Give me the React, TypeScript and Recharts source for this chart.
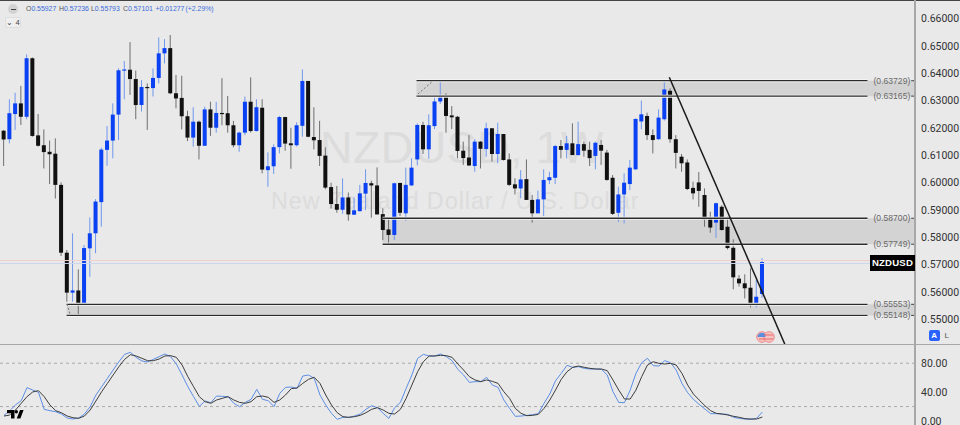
import React from 'react';
import { ComposedChart, LineChart, Bar, Line, XAxis, YAxis, ReferenceArea, ReferenceLine } from 'recharts';

const opens = [.6190,.6159,.6251,.6290,.6241,.6455,.6173,.6137,.6113,.6106,.5992,.5744,.5598,.5606,.5556,.5760,.5815,.5929,.6120,.6154,.6249,.6411,.6413,.6379,.6284,.6350,.6346,.6383,.6473,.6492,.6327,.6310,.6243,.6165,.6223,.6135,.6268,.6201,.6255,.6254,.6210,.6137,.6183,.6296,.6189,.6274,.6046,.6060,.6130,.6240,.6144,.6137,.6208,.6372,.6167,.6156,.6099,.5984,.5922,.5901,.5946,.5883,.5896,.5960,.5998,.5990,.5885,.5829,.5809,.5999,.5888,.5990,.6085,.6211,.6122,.6207,.6297,.6318,.6246,.6241,.6117,.6092,.6061,.6150,.6123,.6199,.6105,.6178,.6085,.5994,.5979,.6013,.5937,.5888,.5939,.6009,.6018,.6134,.6120,.6144,.6101,.6141,.6120,.6098,.6138,.6110,.6018,.5890,.5957,.5995,.6049,.6224,.6244,.6174,.6159,.6232,.6336,.6159,.6095,.6074,.5981,.6001,.5955,.5868,.5854,.5912,.5839,.5762,.5649,.5632,.5616,.5556,.5593];
const closes = [.6158,.6254,.6290,.6241,.6455,.6171,.6135,.6112,.6104,.5992,.5744,.5598,.5606,.5556,.5761,.5815,.5931,.6121,.6154,.6249,.6411,.6414,.6379,.6284,.6350,.6346,.6383,.6473,.6492,.6327,.6308,.6243,.6165,.6223,.6135,.6268,.6201,.6255,.6251,.6210,.6137,.6183,.6296,.6189,.6276,.6048,.6060,.6130,.6240,.6143,.6137,.6210,.6372,.6168,.6155,.6098,.5982,.5922,.5901,.5946,.5884,.5899,.5961,.5999,.5990,.5884,.5827,.5809,.5998,.5890,.5992,.6055,.6211,.6122,.6210,.6297,.6319,.6244,.6239,.6116,.6090,.6063,.6150,.6124,.6199,.6105,.6178,.6083,.5992,.5979,.6012,.5937,.5888,.5939,.6010,.6020,.6134,.6120,.6144,.6101,.6141,.6117,.6090,.6146,.6117,.6010,.5886,.5957,.6000,.6055,.6233,.6250,.6174,.6156,.6238,.6341,.6159,.6109,.6071,.5977,.5961,.5970,.5866,.5836,.5925,.5827,.5761,.5654,.5632,.5614,.5556,.5583,.5710];
const highs = [.6193,.6305,.6329,.6354,.6469,.6458,.6251,.6195,.6154,.6162,.6001,.5754,.5815,.5683,.5772,.5873,.5940,.6128,.6207,.6290,.6418,.6445,.6514,.6410,.6375,.6363,.6418,.6531,.6525,.6540,.6394,.6391,.6263,.6276,.6227,.6278,.6296,.6296,.6382,.6317,.6226,.6187,.6315,.6385,.6305,.6305,.6111,.6140,.6244,.6241,.6201,.6221,.6414,.6372,.6276,.6226,.6129,.6000,.5988,.6016,.5964,.5946,.5992,.6049,.6007,.6056,.5906,.5870,.6000,.6000,.6055,.6089,.6217,.6223,.6250,.6321,.6369,.6327,.6280,.6244,.6150,.6174,.6159,.6152,.6219,.6199,.6219,.6178,.6107,.6016,.6046,.6085,.5955,.5971,.6049,.6040,.6138,.6156,.6171,.6217,.6223,.6150,.6150,.6150,.6156,.6120,.6028,.5985,.6034,.6083,.6235,.6300,.6256,.6195,.6268,.6369,.6345,.6174,.6105,.6085,.6004,.6039,.5979,.5894,.5927,.5918,.5876,.5793,.5662,.5665,.5687,.5644,.5724];
const lows = [.6061,.6144,.6193,.6211,.6232,.6168,.6132,.6052,.5995,.5942,.5732,.5565,.5565,.5516,.5556,.5656,.5742,.5839,.6062,.6089,.6156,.6305,.6321,.6232,.6260,.6193,.6315,.6363,.6436,.6324,.6272,.6195,.6152,.6132,.6085,.6135,.6171,.6183,.6210,.6183,.6129,.6113,.6174,.6183,.6187,.6034,.5985,.6032,.6107,.6117,.6051,.6132,.6168,.6166,.6122,.6061,.5976,.5906,.5890,.5886,.5861,.5882,.5894,.5900,.5872,.5884,.5790,.5778,.5790,.5878,.5860,.5988,.6063,.6105,.6087,.6196,.6288,.6183,.6196,.6089,.6065,.6061,.6040,.6052,.6095,.6077,.6071,.6081,.5988,.5957,.5943,.5937,.5854,.5888,.5878,.5995,.5995,.6089,.6089,.6101,.6099,.6095,.6061,.6049,.6065,.6007,.5882,.5856,.5851,.5973,.6046,.6195,.6156,.6107,.6156,.6227,.6146,.6052,.6040,.5973,.5939,.5912,.5839,.5817,.5798,.5825,.5756,.5610,.5620,.5577,.5544,.5544,.5579];
const stochK = [7.8,14.3,22.2,28.2,46.2,42.9,39.7,16.2,14.3,12.9,9.7,4.2,2.8,4.2,9.7,19.8,36,47.5,59.1,70.6,82.1,92.3,95.1,88.1,83.1,81.7,85.4,89.1,92.8,89.1,78.9,63.7,47.5,33.7,20.3,27.7,25.4,34.6,34.2,33.7,24.5,19.8,25.8,30,43.8,30,28.2,19.8,38.3,46.6,47.1,45.2,62.3,63.7,59.1,36,22.2,10.6,2.3,5.1,5.1,6.9,9.7,16.2,21.2,18.5,10.6,3.7,18.5,25.8,45.2,63.7,86.8,92.3,90,90,92.8,89.1,83.5,71.5,63.7,53.5,54.5,54.5,60.5,49.8,46.6,29.1,17.5,6.5,6.9,7.8,8.8,10.2,24.5,37.4,55.8,66,77.1,74.3,75.2,72.9,72,72,71.5,63.7,40.6,25.8,25.4,42.9,66,80.8,86.8,76.6,76.1,83.5,80.8,70.6,52.1,39.2,30,23.1,16.6,10.2,10.2,9.7,9.2,5.1,3.7,2.8,2.3,3.7,12.5];
const stochD = [6.9,8.3,15.2,24.5,33.7,40.2,42,33.7,22.2,14.3,11.5,6.9,4.6,3.7,6.9,15.2,27.7,40.6,52.1,63.7,75.2,85.4,91.8,90,86.8,83.5,83.5,85.8,90,90.5,88.1,77.5,61.4,47.5,33.7,26.8,24.5,29.1,31.4,33.7,29.1,25.8,24.5,26.8,33.7,34.6,32.8,25.8,29.1,36,44.8,45.7,52.1,57.7,60.5,52.1,36,22.2,11.5,6,5.1,6,7.8,11.5,16.2,18.5,15.2,10.6,9.7,16.2,31.4,49.8,68.3,82.1,90,90,90.9,90.5,88.1,78.9,70.6,61.4,56.8,54.5,56.8,54.9,52.1,40.6,31.4,17.5,10.6,7.4,7.8,9.2,17.5,29.1,42.9,57.7,68.3,74.3,76.1,74.3,72.9,72,72,69.7,56.8,42.9,30.5,30.5,42.9,61.4,77.5,82.1,79.8,78.9,79.8,77.5,66,49.8,37.4,29.1,21.2,14.3,10.6,9.7,8.3,6.5,5.1,3.2,2.8,2.8,5.5];
const priceTicks = [0.55,0.56,0.57,0.58,0.59,0.6,0.61,0.62,0.63,0.64,0.65,0.66];
const oscTicks = [0,40,80];
const oscLevels = [20,80];
const zones = [
  { from: 71.8, low: 0.63165, high: 0.63729 },
  { from: 65.9, low: 0.57749, high: 0.587 },
  { from: 10.9, low: 0.55148, high: 0.55553 },
];
const priceLines = [0.63729,0.63165,0.587,0.57749,0.55553,0.55148];
const lastPriceLines = [{ value: 0.57155, color: '#f0cfcf' }, { value: 0.57046, color: '#cdd6f0' }];
const legend = [
  { k: 'O', v: '0.55927', x: 26 }, { k: 'H', v: '0.57236', x: 59 }, { k: 'L', v: '0.55793', x: 91 }, { k: 'C', v: '0.57101', x: 123 },
  { k: '', v: '+0.01277', x: 155.5 }, { k: '', v: '(+2.29%)', x: 185.5 },
];

const xDomain = [-0.696, 158.57];
const priceDomain = [0.54102, 0.6668];
const oscDomain = [-5.5, 106.6];
const lineEnd = 150.3;

const candles = opens.map((o, i) => ({ i, o, c: closes[i], h: highs[i], l: lows[i], range: [lows[i], highs[i]] }));
const oscRows = stochK.map((k, i) => ({ i, k, d: stochD[i] }));

const Candle = (props: any) => {
  const { x, y, width, height, payload } = props;
  const top = Math.min(y, y + height);
  const span = Math.abs(height);
  const { o, c, h, l } = payload;
  const at = (p: number) => top + ((h - p) / (h - l)) * span;
  const up = c >= o;
  const cx = x + width / 2;
  const bodyTop = at(Math.max(o, c));
  const bodyH = Math.max(1.2, at(Math.min(o, c)) - bodyTop);
  return (
    <g>
      <line x1={cx} x2={cx} y1={top} y2={top + span} stroke={up ? '#6f97ee' : '#6e6e6e'} strokeWidth={1} />
      <rect x={cx - 2} width={4} y={bodyTop} height={bodyH} fill={up ? '#0a41f2' : '#111111'} />
    </g>
  );
};

const tickStyle = { fontFamily: 'Roboto', fontSize: 10.5, fill: '#333333' };
const abs = (left: number, top: number): React.CSSProperties => ({ position: 'absolute', left, top, whiteSpace: 'nowrap', lineHeight: 1 });

export default function App() {
  return (
    <div style={{ position: 'absolute', left: 0, top: 0, width: 960, height: 425, overflow: 'hidden', background: '#e9e9e9', fontFamily: 'Liberation Sans' }}>
      <div style={{ position: 'absolute', left: 0, top: 0, width: 960, height: 1, background: '#444' }} />
      <div style={{ ...abs(320, 125), fontSize: 45, color: '#dcdcdc', letterSpacing: 0.4 }}>NZDUSD, 1W</div>
      <div style={{ ...abs(271, 190), fontSize: 23.5, color: '#dcdcdc', letterSpacing: 0.9 }}>New Zealand Dollar / U.S. Dollar</div>

      <div style={{ position: 'absolute', left: 0, top: 0 }}>
        <ComposedChart width={960} height={344} data={candles} margin={{ top: 0, right: 0, bottom: 0, left: 0 }}>
          <XAxis dataKey="i" type="number" domain={xDomain} allowDataOverflow hide />
          <YAxis orientation="right" width={45} domain={priceDomain} allowDataOverflow ticks={priceTicks}
            tickFormatter={(v: number) => v.toFixed(5)} tick={tickStyle} tickLine={false} tickSize={6} tickMargin={0}
            axisLine={{ stroke: '#a8a8a8', strokeWidth: 2 }} interval={0} />
          {zones.map((z) => (
            <ReferenceArea key={z.low} x1={z.from} x2={xDomain[1]} y1={z.low} y2={z.high} fill="#d3d3d3" fillOpacity={1} stroke="none" />
          ))}
          {lastPriceLines.map((l) => (
            <ReferenceLine key={l.value} y={l.value} stroke={l.color} strokeWidth={1} />
          ))}
          {zones.flatMap((z) => [z.high, z.low].map((p) => (
            <ReferenceLine key={`h${p}`} segment={[{ x: z.from, y: p }, { x: lineEnd, y: p }]} stroke="#f6f6f6" strokeWidth={3} />
          )))}
          <Bar dataKey="range" barSize={5} shape={<Candle />} isAnimationActive={false} />
          {zones.flatMap((z) => [z.high, z.low].map((p) => (
            <ReferenceLine key={p} segment={[{ x: z.from, y: p }, { x: lineEnd, y: p }]} stroke="#2a2a2a" strokeWidth={1.3}
              label={{ value: `(${p.toFixed(5)})`, position: 'right', offset: 6, fill: '#6a6a6a', fontSize: 8.6, fontFamily: 'Liberation Sans' }} />
          )))}
          {priceLines.map((p) => (
            <ReferenceLine key={`t${p}`} segment={[{ x: 157.9, y: p }, { x: 158.4, y: p }]} stroke="#444" strokeWidth={1} />
          ))}
          <ReferenceLine segment={[{ x: 115.8, y: 0.63854 }, { x: 135.9, y: 0.54102 }]} stroke="#1a1a1a" strokeWidth={1.5} />
          <ReferenceLine segment={[{ x: 72.06, y: 0.63243 }, { x: 74.7, y: 0.63729 }]} stroke="#777" strokeWidth={1} strokeDasharray="2 2" />
          <ReferenceLine segment={[{ x: 10.97, y: 0.55565 }, { x: 11.5, y: 0.55199 }]} stroke="#777" strokeWidth={1} strokeDasharray="2 2" />
        </ComposedChart>
      </div>

      <div style={{ position: 'absolute', left: 0, top: 344 }}>
        <LineChart width={960} height={81} data={oscRows} margin={{ top: 0, right: 0, bottom: 0, left: 0 }}>
          <XAxis dataKey="i" type="number" domain={xDomain} allowDataOverflow hide />
          <YAxis orientation="right" width={45} domain={oscDomain} allowDataOverflow ticks={oscTicks}
            tickFormatter={(v: number) => v.toFixed(2)} tick={tickStyle} tickLine={false} tickSize={6} tickMargin={0}
            axisLine={{ stroke: '#a8a8a8', strokeWidth: 2 }} interval={0} />
          {oscLevels.map((l) => (
            <ReferenceLine key={l} y={l} stroke="#aaaaaa" strokeWidth={1} strokeDasharray="3 3" />
          ))}
          <Line dataKey="k" type="linear" stroke="#5c8ee6" strokeWidth={1} dot={false} isAnimationActive={false} />
          <Line dataKey="d" type="linear" stroke="#3d3d3d" strokeWidth={1} dot={false} isAnimationActive={false} />
        </LineChart>
      </div>
      <div style={{ position: 'absolute', left: 0, top: 344, width: 960, height: 1, background: '#a8a8a8' }} />

      {legend.map((e) => (
        <div key={e.x} style={{ ...abs(e.x, 6), fontSize: 6.9 }}>
          <span style={{ color: '#555' }}>{e.k}</span>
          <span style={{ color: '#3a6cdc' }}>{e.v}</span>
        </div>
      ))}
      <div style={{ position: 'absolute', left: 8, top: 4, width: 10, height: 10, borderRadius: 5, background: '#d2d2d2' }} />
      <div style={{ position: 'absolute', left: 10.5, top: 8.5, width: 5, height: 1, background: '#444' }} />
      <div style={{ ...abs(5, 17), width: 16, height: 11, background: '#efefef', border: '1px solid #dddddd', borderRadius: 2, boxSizing: 'border-box', fontSize: 7.5, color: '#444', textAlign: 'center', lineHeight: '9px' }}>⌄ 4</div>

      <div style={{ ...abs(870, 254.5), width: 45, height: 16, background: '#000', color: '#fff', fontWeight: 700, fontSize: 9.6, textAlign: 'center', lineHeight: '16px', letterSpacing: 0.2 }}>NZDUSD</div>

      <div style={{ ...abs(929, 330), width: 10.5, height: 11, background: '#2962ff', color: '#fff', fontWeight: 700, fontSize: 8, textAlign: 'center', lineHeight: '11px', borderRadius: 2 }}>A</div>
      <div style={{ ...abs(944.5, 332), fontSize: 8, color: '#555' }}>L</div>

      <svg style={{ position: 'absolute', left: 755, top: 330 }} width={21} height={14}>
        <circle cx={7} cy={7} r={5.3} fill="#f6c3c3" stroke="#f08a8a" strokeWidth={1} />
        <circle cx={14} cy={7} r={5.3} fill="#f6c3c3" stroke="#f08a8a" strokeWidth={1} />
        <path d="M2.5 7a4.5 4.5 0 0 1 8-2.5v2.5z" fill="#5a8fe0" />
        <path d="M9 9h9M9 5h9M4 9h6" stroke="#e86a6a" strokeWidth={1} />
      </svg>

      <svg style={{ position: 'absolute', left: 5, top: 408 }} width={20} height={13}>
        <path d="M2 2h7.5v8.5H6V5.2H2z M15 2h3.6l-3.2 8.5h-3.7z" fill="#000" stroke="#f5f5f5" strokeWidth={0.6} paintOrder="stroke" />
        <circle cx={11.3} cy={3.7} r={1.7} fill="#000" />
      </svg>
    </div>
  );
}
